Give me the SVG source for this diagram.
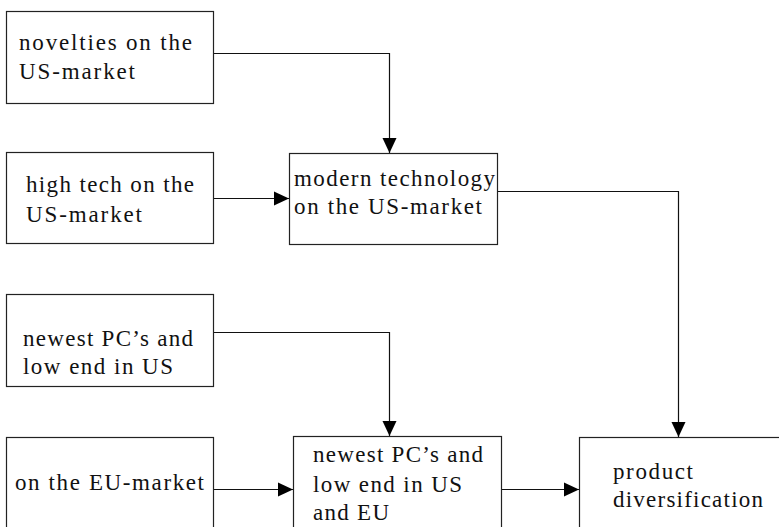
<svg xmlns="http://www.w3.org/2000/svg" width="779" height="527" viewBox="0 0 779 527">
<style>
  .box { fill: #ffffff; stroke: #222222; stroke-width: 1.2; }
  .lbl { font-family: 'Liberation Serif', 'DejaVu Serif', 'Times New Roman', serif; font-size: 23px; fill: #111111; }
  .conn { fill: none; stroke: #111111; stroke-width: 1.2; marker-end: url(#arrow); }
</style>
<defs>
  <marker id="arrow" markerUnits="userSpaceOnUse" markerWidth="16" markerHeight="16" viewBox="0 0 16 16" refX="15" refY="8" orient="auto">
    <path d="M0,1 L15,8 L0,15 Z" fill="#000000"/>
  </marker>
</defs>
<rect width="779" height="527" fill="#ffffff"/>

<g id="connectors">
  <path class="conn" d="M213.5,53.5 H389.5 V153"/>
  <path class="conn" d="M214,198.5 H289"/>
  <path class="conn" d="M498,191.5 H678.5 V437"/>
  <path class="conn" d="M214,332.5 H389.5 V436"/>
  <path class="conn" d="M214,489.5 H293"/>
  <path class="conn" d="M502,489.5 H579"/>
</g>

<g id="novelties">
  <rect class="box" x="6.5" y="11.5" width="207" height="92"/>
  <text class="lbl" font-family="Liberation Serif, serif" x="19" y="50" textLength="173" lengthAdjust="spacing">novelties on the</text>
  <text class="lbl" font-family="Liberation Serif, serif" x="19" y="79" textLength="116" lengthAdjust="spacing">US-market</text>
</g>

<g id="hightech">
  <rect class="box" x="6.5" y="152.5" width="207" height="91"/>
  <text class="lbl" x="26" y="192" textLength="168" lengthAdjust="spacing">high tech on the</text>
  <text class="lbl" x="26" y="221.5" textLength="116" lengthAdjust="spacing">US-market</text>
</g>

<g id="modern">
  <rect class="box" x="289.5" y="153.5" width="208" height="91"/>
  <text class="lbl" x="294" y="186" textLength="201" lengthAdjust="spacing">modern technology</text>
  <text class="lbl" x="294" y="214" textLength="188" lengthAdjust="spacing">on the US-market</text>
</g>

<g id="newestUS">
  <rect class="box" x="6.5" y="294.5" width="207" height="92"/>
  <text class="lbl" x="23" y="345.5" textLength="170" lengthAdjust="spacing">newest PC’s and</text>
  <text class="lbl" x="23" y="374" textLength="150" lengthAdjust="spacing">low end in US</text>
</g>

<g id="eumarket">
  <rect class="box" x="6.5" y="437.5" width="207" height="100"/>
  <text class="lbl" x="15" y="490" textLength="189" lengthAdjust="spacing">on the EU-market</text>
</g>

<g id="newestUSEU">
  <rect class="box" x="293.5" y="436.5" width="208" height="100"/>
  <text class="lbl" x="313" y="462" textLength="170" lengthAdjust="spacing">newest PC’s and</text>
  <text class="lbl" x="313" y="492" textLength="149" lengthAdjust="spacing">low end in US</text>
  <text class="lbl" x="313" y="520" textLength="76" lengthAdjust="spacing">and EU</text>
</g>

<g id="diversification">
  <rect class="box" x="579.5" y="437.5" width="210" height="100"/>
  <text class="lbl" x="613" y="479" textLength="80" lengthAdjust="spacing">product</text>
  <text class="lbl" x="613" y="507" textLength="150" lengthAdjust="spacing">diversification</text>
</g>
</svg>
